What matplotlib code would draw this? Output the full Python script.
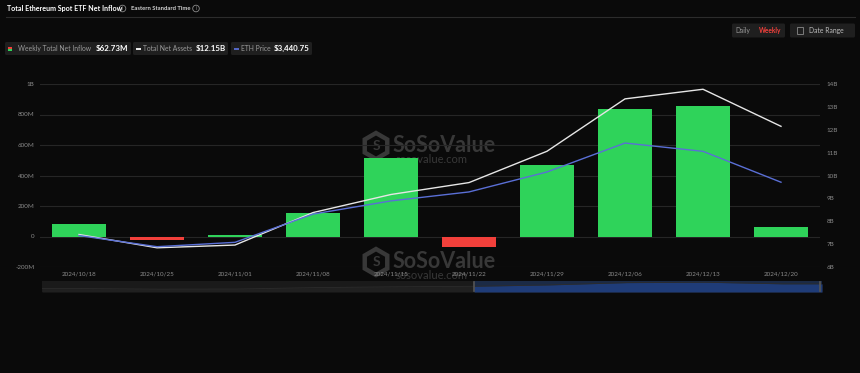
import matplotlib
matplotlib.use("Agg")
import matplotlib.pyplot as plt
from matplotlib.patches import FancyBboxPatch, Rectangle, RegularPolygon, Circle
import numpy as np

# ---------------- data ----------------
dates = ["2024/10/18", "2024/10/25", "2024/11/01", "2024/11/08", "2024/11/15",
         "2024/11/22", "2024/11/29", "2024/12/06", "2024/12/13", "2024/12/20"]
net_inflow_m = [79, -26, 13, 155, 515, -72, 466, 835, 855, 62.73]          # $M
total_assets_b = [7.42, 6.84, 6.96, 8.38, 9.17, 9.69, 11.06, 13.35, 13.77, 12.15]  # $B
eth_price = [2613, 2440, 2508, 2946, 3151, 3290, 3600, 4049, 3920, 3440.75]

left_ticks = [-200, 0, 200, 400, 600, 800, 1000]
left_labels = ["-200M", "0", "200M", "400M", "600M", "800M", "1B"]
right_ticks = [6, 7, 8, 9, 10, 11, 12, 13, 14]
right_labels = ["6B", "7B", "8B", "9B", "10B", "11B", "12B", "13B", "14B"]

# ---------------- style ----------------
BG = "#0a0a0a"
GREEN = "#2fd35a"
RED = "#f2403b"
WHITE_LINE = "#e6e6e6"
BLUE_LINE = "#5a6fd6"
GRID = "#262626"
TICK = "#8a8a8a"
WM = "#383838"
plt.rcParams["font.family"] = ["Lato", "DejaVu Sans"]

W, H = 860, 373
fig = plt.figure(figsize=(W / 100, H / 100), dpi=100, facecolor=BG)

# background overlay axes in pixel coordinates
bg = fig.add_axes([0, 0, 1, 1], zorder=0)
bg.set_xlim(0, W)
bg.set_ylim(H, 0)
bg.axis("off")
bg.set_facecolor(BG)

# header
bg.text(7, 8.5, "Total Ethereum Spot ETF Net Inflow", color="white", fontsize=5.1,
        fontweight="bold", va="center", ha="left")
def info_icon(x, y):
    bg.add_patch(Circle((x, y), 3.3, fill=False, ec="#8a8a8a", lw=0.6))
    bg.text(x, y + 0.3, "i", color="#8a8a8a", fontsize=3.6, ha="center", va="center")
info_icon(122.5, 8.5)
bg.text(131, 8.5, "Eastern Standard Time", color="#d0d0d0", fontsize=4.2,
        fontweight="bold", va="center", ha="left")
info_icon(196, 8.5)
bg.plot([6, 855], [17, 17], color="#2c2c2c", lw=0.8)

# legend row
def box(x0, x1, y0, y1, fc="#1f1f1f"):
    bg.add_patch(FancyBboxPatch((x0, y0), x1 - x0, y1 - y0,
                                boxstyle="round,pad=0,rounding_size=1.5",
                                fc=fc, ec="none"))
ly = 48.5
box(5, 131, 42, 55)
bg.add_patch(Rectangle((8, 46.5), 4, 2, fc=RED, ec="none"))
bg.add_patch(Rectangle((8, 48.5), 4, 2.5, fc=GREEN, ec="none"))
bg.text(18, ly, "Weekly Total Net Inflow", color="#9a9a9a", fontsize=4.9, va="center")
bg.text(96, ly, "$62.73M", color="white", fontsize=5.7, fontweight="bold", va="center")
box(133, 228, 42, 55)
bg.plot([136, 141], [ly, ly], color="white", lw=1.3, solid_capstyle="butt")
bg.text(143, ly, "Total Net Assets", color="#9a9a9a", fontsize=4.9, va="center")
bg.text(196, ly, "$12.15B", color="white", fontsize=5.7, fontweight="bold", va="center")
box(231, 312, 42, 55)
bg.plot([233.5, 239], [ly, ly], color=BLUE_LINE, lw=1.3, solid_capstyle="butt")
bg.text(241, ly, "ETH Price", color="#9a9a9a", fontsize=4.9, va="center")
bg.text(274, ly, "$3,440.75", color="white", fontsize=5.7, fontweight="bold", va="center")

# controls
box(732, 785, 23.5, 37.5)
bg.text(735.5, 30.5, "Daily", color="#9a9a9a", fontsize=4.7, va="center")
bg.text(759, 30.5, "Weekly", color="#f2403b", fontsize=4.7, fontweight="bold", va="center")
box(790, 855, 23.5, 37.5)
bg.add_patch(Rectangle((797, 26.8), 6, 7, fill=False, ec="#8a8a8a", lw=0.6))
bg.text(809, 30.5, "Date Range", color="#bdbdbd", fontsize=4.9, va="center")

# watermarks (behind the chart)
def watermark(y):
    bg.add_patch(RegularPolygon((376, y), 6, radius=13, fill=False, ec=WM, lw=3.2))
    bg.text(376, y + 0.5, "S", color=WM, fontsize=10, fontweight="bold",
            ha="center", va="center")
    bg.text(393, y - 1, "SoSoValue", color=WM, fontsize=15.5, fontweight="bold",
            ha="left", va="center")
    bg.text(396, y + 13.5, "sosovalue.com", color=WM, fontsize=8,
            ha="left", va="center")
watermark(146)
watermark(262)

# ---------------- main chart ----------------
x = np.arange(len(dates))
ax = fig.add_axes([40 / W, 1 - 267 / H, 780 / W, 183 / H], zorder=2)
ax.set_facecolor("none")
colors = [GREEN if v >= 0 else RED for v in net_inflow_m]
ax.bar(x, net_inflow_m, width=0.69, color=colors, zorder=2)
ax.set_xlim(-0.5, len(dates) - 0.5)
ax.set_ylim(-200, 1000)
ax.set_yticks(left_ticks)
ax.set_yticklabels(left_labels)
ax.set_xticks(x)
ax.set_xticklabels(dates)
ax.grid(axis="y", color=GRID, lw=0.8, zorder=0)
ax.set_axisbelow(True)
for s in ax.spines.values():
    s.set_visible(False)
ax.tick_params(axis="both", length=0, colors=TICK, labelsize=4.5)
ax.tick_params(axis="y", pad=4)
ax.tick_params(axis="x", pad=3.5)

ax2 = ax.twinx()
ax2.plot(x, total_assets_b, color=WHITE_LINE, lw=1.0, zorder=3)
ax2.set_ylim(6, 14)
ax2.set_yticks(right_ticks)
ax2.set_yticklabels(right_labels)
for s in ax2.spines.values():
    s.set_visible(False)
ax2.tick_params(axis="y", length=0, colors=TICK, labelsize=4.5, pad=5)

ax3 = ax.twinx()
ax3.plot(x, eth_price, color=BLUE_LINE, lw=1.0, zorder=3)
ax3.set_ylim(2125, 4965)
ax3.axis("off")

# ---------------- navigator ----------------
nav = fig.add_axes([42 / W, 1 - 292 / H, 780 / W, 11 / H], zorder=2)
nav.set_facecolor("#1a1a1a")
xmax = len(dates) - 0.5
nav.set_xlim(-0.5, xmax)
nav.set_ylim(4, 15)
xn = np.r_[-0.5, x, xmax]
yn = np.r_[total_assets_b[0], total_assets_b, total_assets_b[-1]]
nav.fill_between(xn, 4, yn, color="#202020", lw=0)
nav.plot(xn, yn, color="#2c2c2c", lw=0.6)
sel0 = 5.04
nav.axvspan(sel0, xmax, color="#1b2a45", lw=0)
m = xn >= sel0
nav.fill_between(np.r_[sel0, xn[m]], 4, np.r_[np.interp(sel0, xn, yn), yn[m]],
                 color="#1f3c78", lw=0)
for hx in (sel0, xmax - 0.02):
    nav.plot([hx, hx], [5, 14], color="#555555", lw=1.2)
nav.set_xticks([])
nav.set_yticks([])
for s in nav.spines.values():
    s.set_visible(False)

fig.savefig("out.png", dpi=100, facecolor=BG)
